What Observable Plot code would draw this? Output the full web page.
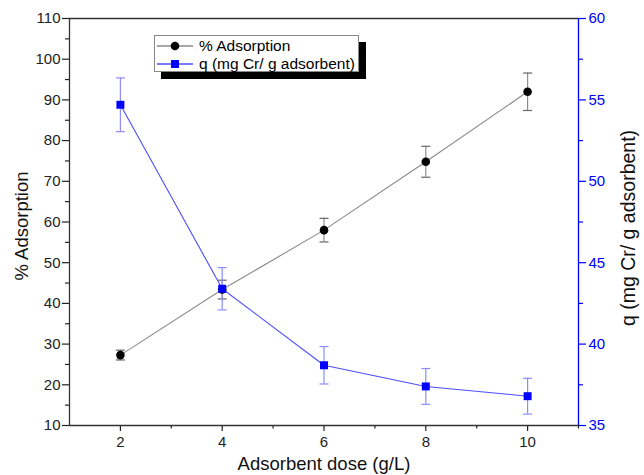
<!DOCTYPE html>
<html>
<head>
<meta charset="utf-8">
<script src="https://cdn.jsdelivr.net/npm/d3@7"></script>
<script src="https://cdn.jsdelivr.net/npm/@observablehq/plot@0.6"></script>
<style>
  html, body { margin: 0; padding: 0; background: #fff; }
  #wrap { position: relative; width: 644px; height: 475px; overflow: hidden; font-family: "Liberation Sans", Arial, sans-serif; }
  #legend { position: absolute; left: 154px; top: 35px; width: 205px; height: 37px; background: #fff; border: 1px solid #888; box-shadow: 7px 7px 0 #000; box-sizing: border-box; }
  .row { position: absolute; left: 0; height: 19px; display: flex; align-items: center; font-size: 15.5px; color: #000; white-space: nowrap; }
  .row svg { margin-left: 1px; margin-right: 5px; }
</style>
</head>
<body>
<div id="wrap">
  <div id="chart"></div>
  <div id="legend"></div>
</div>
<script>
// ---- data ----
const doses = [2, 4, 6, 8, 10];
const adsorption = [27.3, 43.4, 58.0, 74.8, 92.0];
const adsorptionErr = [1.2, 2.3, 2.9, 3.8, 4.6];
const qValues = [54.7, 43.4, 38.7, 37.4, 36.8];
const qErr = [1.65, 1.3, 1.15, 1.1, 1.1];

const xTicks = [2, 4, 6, 8, 10];
const xMinorTicks = [3, 5, 7, 9, 11];
const leftTicks = [10, 20, 30, 40, 50, 60, 70, 80, 90, 100, 110];
const leftMinorTicks = [15, 25, 35, 45, 55, 65, 75, 85, 95, 105];
const rightTicks = [35, 40, 45, 50, 55, 60];
const rightMinorTicks = [37.5, 42.5, 47.5, 52.5, 57.5];

const seriesNames = ["% Adsorption", "q (mg Cr/ g adsorbent)"];
const xLabel = "Adsorbent dose (g/L)";

// ---- styles ----
const FONT = '"Liberation Sans", Arial, sans-serif';
const blue = "#0000ff";
const blueLine = "#4d4dff";
const blueErr = "#8c8cff";
const grayLine = "#8a8a8a";
const grayErr = "#8f8f8f";

// map right-axis (q) values onto left scale domain
const qDomain = [35, 60], leftDomain = [10, 110];
const qToLeft = v => leftDomain[0] + (v - qDomain[0]) * (leftDomain[1] - leftDomain[0]) / (qDomain[1] - qDomain[0]);
const leftToQ = v => qDomain[0] + (v - leftDomain[0]) * (qDomain[1] - qDomain[0]) / (leftDomain[1] - leftDomain[0]);

const adsData = doses.map((d, i) => ({x: d, y: adsorption[i], lo: adsorption[i] - adsorptionErr[i], hi: adsorption[i] + adsorptionErr[i]}));
const qData = doses.map((d, i) => ({x: d, y: qToLeft(qValues[i]), lo: qToLeft(qValues[i] - qErr[i]), hi: qToLeft(qValues[i] + qErr[i])}));

// horizontal cap symbol for error bars
const cap = { draw(ctx, size) { const w = 4.5; ctx.moveTo(-w, 0); ctx.lineTo(w, 0); } };

const chart = Plot.plot({
  width: 644,
  height: 475,
  marginLeft: 69,
  marginRight: 66,
  marginTop: 18,
  marginBottom: 50,
  style: { fontFamily: FONT, background: "#fff", overflow: "visible" },
  x: { domain: [1, 11] },
  y: { domain: leftDomain },
  marks: [
    // axes
    Plot.axisX({ ticks: xTicks, tickSize: 6, tickPadding: 5, fontSize: 15, label: null, color: "#222", strokeWidth: 1.2 }),
    Plot.axisX({ ticks: xMinorTicks, tickSize: 3.5, tickFormat: () => "", label: null, color: "#222", strokeWidth: 1.2 }),
    Plot.axisY({ anchor: "left", ticks: leftTicks, tickSize: 7, tickPadding: 2, fontSize: 15, label: null, color: "#222", strokeWidth: 1.2 }),
    Plot.axisY({ anchor: "left", ticks: leftMinorTicks, tickSize: 4, tickFormat: () => "", label: null, color: "#222", strokeWidth: 1.2 }),
    Plot.axisY({ anchor: "right", ticks: rightTicks.map(qToLeft), tickFormat: d => d3.format("d")(Math.round(leftToQ(d))), tickSize: 7, tickPadding: 3, fontSize: 15, label: null, color: blue, strokeWidth: 1.2 }),
    Plot.axisY({ anchor: "right", ticks: rightMinorTicks.map(qToLeft), tickSize: 4, tickFormat: () => "", label: null, color: blue, strokeWidth: 1.2 }),
    // frame
    Plot.ruleY([leftDomain[0]], { stroke: "#333", strokeWidth: 1.3 }),
    Plot.ruleY([leftDomain[1]], { stroke: "#333", strokeWidth: 1.3 }),
    Plot.ruleX([1], { stroke: "#333", strokeWidth: 1.3 }),
    Plot.ruleX([11], { stroke: blue, strokeWidth: 1.3 }),
    // axis titles
    Plot.text([xLabel], { frameAnchor: "bottom", dy: 44, fontSize: 18.5, fill: "#111" }),
    Plot.text([seriesNames[0]], { frameAnchor: "left", textAnchor: "middle", rotate: -90, dx: -47, dy: 4, fontSize: 18.5, fill: "#111" }),
    Plot.text([seriesNames[1]], { frameAnchor: "right", textAnchor: "middle", rotate: -90, dx: 50, dy: 6, fontSize: 19.5, fill: "#111" }),
    // error bars
    Plot.ruleX(adsData, { x: "x", y1: "lo", y2: "hi", stroke: grayErr, strokeWidth: 1.2 }),
    Plot.dot(adsData, { x: "x", y: "lo", symbol: cap, stroke: "#666", strokeWidth: 1.2, fill: "none" }),
    Plot.dot(adsData, { x: "x", y: "hi", symbol: cap, stroke: "#666", strokeWidth: 1.2, fill: "none" }),
    Plot.ruleX(qData, { x: "x", y1: "lo", y2: "hi", stroke: blueErr, strokeWidth: 1.2 }),
    Plot.dot(qData, { x: "x", y: "lo", symbol: cap, stroke: blueErr, strokeWidth: 1.2, fill: "none" }),
    Plot.dot(qData, { x: "x", y: "hi", symbol: cap, stroke: blueErr, strokeWidth: 1.2, fill: "none" }),
    // lines
    Plot.line(adsData, { x: "x", y: "y", stroke: grayLine, strokeWidth: 1.1 }),
    Plot.line(qData, { x: "x", y: "y", stroke: blueLine, strokeWidth: 1.1 }),
    // markers
    Plot.dot(adsData, { x: "x", y: "y", r: 4.3, fill: "#000", stroke: "none" }),
    Plot.dot(qData, { x: "x", y: "y", r: 4.5, symbol: "square", fill: blue, stroke: "none" })
  ]
});
document.getElementById("chart").appendChild(chart);

// legend
const legend = document.getElementById("legend");
const items = [
  { name: seriesNames[0], line: grayLine, marker: "circle", color: "#000" },
  { name: seriesNames[1], line: blueLine, marker: "square", color: blue }
];
items.forEach((it, i) => {
  const row = document.createElement("div");
  row.className = "row";
  row.style.top = (i === 0 ? 0 : 18) + "px";
  const m = it.marker === "circle"
    ? `<circle cx="19" cy="8" r="4.3" fill="${it.color}"/>`
    : `<rect x="15" y="4" width="8" height="8" fill="${it.color}"/>`;
  row.innerHTML = `<svg width="38" height="16"><line x1="1" y1="8" x2="37" y2="8" stroke="${it.line}" stroke-width="1.3"/>${m}</svg><span>${it.name}</span>`;
  legend.appendChild(row);
});
</script>
</body>
</html>
